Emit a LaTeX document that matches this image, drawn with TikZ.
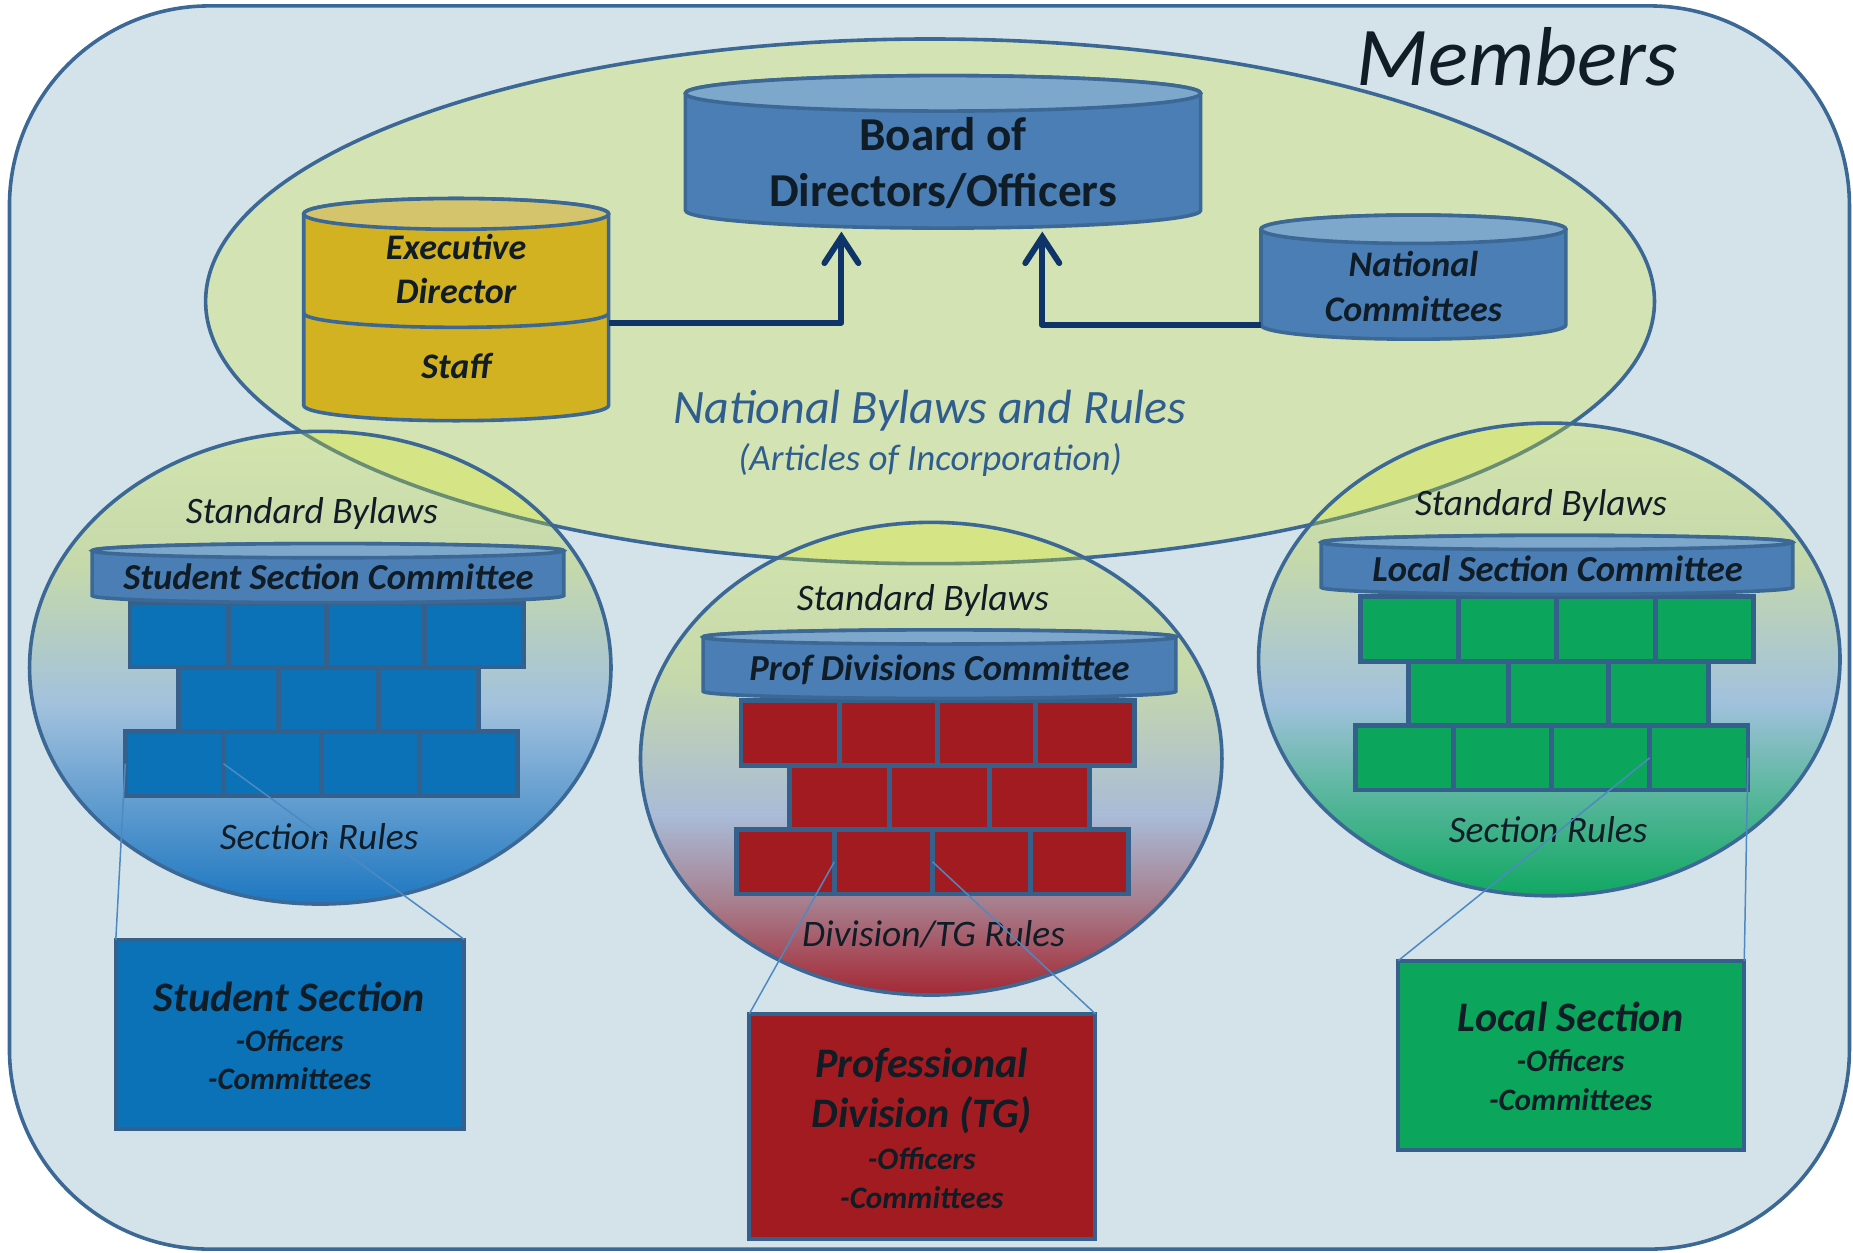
\documentclass[tikz,border=0pt]{standalone}
\usepackage{fontspec}
\setmainfont{Carlito}
\usetikzlibrary{arrows.meta}
\definecolor{bgc}{HTML}{D4E3EA}
\definecolor{bordc}{HTML}{3C6895}
\definecolor{natfill}{HTML}{D3E3B3}
\definecolor{ovl}{HTML}{D5E485}
\definecolor{ovlline}{HTML}{6A8E74}
\definecolor{cylblue}{HTML}{4A7EB5}
\definecolor{cyltop}{HTML}{7EA7CC}
\definecolor{gold}{HTML}{D3B221}
\definecolor{goldtop}{HTML}{D4C46C}
\definecolor{navy}{HTML}{0E3469}
\definecolor{txt}{HTML}{101C26}
\definecolor{ntxt}{HTML}{2F5E8E}
\definecolor{bblue}{HTML}{0B72B8}
\definecolor{bred}{HTML}{A11B20}
\definecolor{bgreen}{HTML}{0BA65C}
\definecolor{brickline}{HTML}{35608B}
\definecolor{thinline}{HTML}{4D89C2}
\definecolor{shtop}{HTML}{D3E4AE}
\definecolor{shmid}{HTML}{C6D9AA}
\definecolor{shlb}{HTML}{A2C1DD}
\definecolor{shlav}{HTML}{A9BBD7}
\definecolor{sbbot}{HTML}{1D77C1}
\definecolor{srmid}{HTML}{A7808F}
\definecolor{srbot}{HTML}{A52835}
\definecolor{sgmid}{HTML}{62B8A4}
\definecolor{sgbot}{HTML}{10A862}
\pgfdeclareverticalshading{shblue}{100bp}{color(0bp)=(sbbot); color(25bp)=(sbbot); color(46bp)=(shlb); color(61bp)=(shmid); color(75bp)=(shtop); color(100bp)=(shtop)}
\pgfdeclareverticalshading{shred}{100bp}{color(0bp)=(srbot); color(25bp)=(srbot); color(35bp)=(srmid); color(44bp)=(shlav); color(59bp)=(shmid); color(75bp)=(shtop); color(100bp)=(shtop)}
\pgfdeclareverticalshading{shgreen}{100bp}{color(0bp)=(sgbot); color(25bp)=(sgbot); color(37bp)=(sgmid); color(45.5bp)=(shlb); color(61bp)=(shmid); color(75bp)=(shtop); color(100bp)=(shtop)}

\newcommand\drawcyl[7]{%
  \pgfmathsetmacro\cylcx{(#1+#2)/2}%
  \pgfmathsetmacro\cylrx{(#2-#1)/2}%
  \filldraw[cylline, fill=#6] (#1,#3) -- (#1,#4) arc[start angle=180, end angle=0, x radius=\cylrx, y radius=#5] -- (#2,#3) arc[start angle=0, end angle=-180, x radius=\cylrx, y radius=#5] -- cycle;
  \filldraw[cylline, fill=#7] (\cylcx,#3) ellipse[x radius=\cylrx, y radius=#5];
}
\newcommand\secell[3]{%
  \shade[shading=#3] (#1,#2) ellipse[x radius=246, y radius=200];
  \begin{scope}
    \clip (787,255) ellipse[x radius=613, y radius=222];
    \fill[ovl] (#1,#2) ellipse[x radius=246, y radius=200];
  \end{scope}
  \begin{scope}
    \clip (#1,#2) ellipse[x radius=246, y radius=200];
    \draw[ovlline, line width=1.8pt] (787,255) ellipse[x radius=613, y radius=222];
  \end{scope}
  \draw[bordline] (#1,#2) ellipse[x radius=246, y radius=200];
}
\newcommand\brickwall[4]{%
  \foreach \i in {0,...,3} \node[brick, fill=#4] (#1-1-\i) at ({#2+\i*83.2},{#3}) {};
  \foreach \i in {0,1,2} \node[brick, widebrick, fill=#4] (#1-2-\i) at ({#2+41+\i*84.6},{#3+54.5}) {};
  \foreach \i in {0,...,3} \node[brick, fill=#4] (#1-3-\i) at ({#2-4+\i*83},{#3+109}) {};
}

\begin{document}
\begin{tikzpicture}[x=0.59088pt, y=-0.59088pt,
  bordline/.style={draw=bordc, line width=1.8pt},
  cylline/.style={draw=bordc, line width=1.8pt},
  brick/.style={draw=brickline, line width=2.4pt, anchor=north west, inner sep=0pt, outer sep=0pt, minimum width=49.1pt, minimum height=32.2pt},
  widebrick/.style={minimum width=49.99pt},
  boxnode/.style={draw=brickline, line width=2pt, inner sep=0pt, outer sep=0pt},
  thinconn/.style={draw=thinline, line width=0.75pt},
  arrowline/.style={draw=navy, line width=3pt, line join=round, -{Straight Barb[length=13pt, width=17pt, line cap=round]}},
  hidden/.style={inner sep=0pt, outer sep=0pt},
  lbl/.style={anchor=base, inner sep=0pt, text=txt},
  cyllbl/.style={lbl, font=\bfseries\itshape\fontsize{18}{22}\selectfont},
  comlbl/.style={lbl, font=\bfseries\itshape\fontsize{18.3}{22}\selectfont},
  stdlbl/.style={lbl, font=\itshape\fontsize{18.7}{22}\selectfont},
  boxtitle/.style={lbl, font=\bfseries\itshape\fontsize{21}{25}\selectfont},
  boxitem/.style={lbl, font=\bfseries\itshape\fontsize{15.6}{19}\selectfont}
]
\useasboundingbox (0,0) rectangle (1568,1060);
% members frame
\draw[bordline, fill=bgc, rounded corners=100pt] (8,5) rectangle (1565,1057);
\node[lbl, font=\itshape\fontsize{41.8}{48}\selectfont] (members) at (1284,72) {Members};
% national ellipse
\draw[bordline, fill=natfill] (787,255) ellipse[x radius=613, y radius=222];
% cylinders
\drawcyl{580}{1016}{79}{178}{15}{cylblue}{cyltop}
\drawcyl{257}{515}{181}{343}{13}{gold}{goldtop}
\draw[cylline] (257,265) arc[start angle=180, end angle=0, x radius=129, y radius=12];
\drawcyl{1067}{1325}{194}{275}{12}{cylblue}{cyltop}
\node[lbl, font=\bfseries\fontsize{23.6}{28}\selectfont] (board) at (798,127) {Board of};
\node[lbl, font=\bfseries\fontsize{23.6}{28}\selectfont] (board2) at (798,175) {Directors/Officers};
\node[cyllbl] (exec) at (386,220) {Executive};
\node[cyllbl] (exec2) at (386,257) {Director};
\node[cyllbl] (staff) at (386,320) {Staff};
\node[cyllbl] (natl) at (1196,234) {National};
\node[cyllbl] (natl2) at (1196,272) {Committees};
\node[hidden, minimum width=152.4pt, minimum height=80pt] (execbody) at (386,273) {};
\node[hidden, minimum width=152.4pt, minimum height=40pt] (natbody) at (1196,275) {};
\coordinate (boardin1) at (712,196);
\coordinate (boardin2) at (882,196);
\draw[arrowline] (execbody.east) -| (boardin1);
\draw[arrowline] (natbody.west) -| (boardin2);
\node[anchor=base, inner sep=0pt, text=ntxt, font=\itshape\fontsize{24}{28}\selectfont] (natbylaws) at (787,358) {National Bylaws and Rules};
\node[anchor=base, inner sep=0pt, text=ntxt, font=\itshape\fontsize{18.5}{22}\selectfont] (articles) at (787,398) {(Articles of Incorporation)};
% section ellipses
\secell{271}{565}{shblue}
\secell{788}{642}{shred}
\secell{1311}{558}{shgreen}
% walls
\brickwall{s}{110}{510}{bblue}
\brickwall{p}{627}{593}{bred}
\brickwall{l}{1151}{505}{bgreen}
% committee cylinders
\drawcyl{78}{477}{466}{504}{6}{cylblue}{cyltop}
\drawcyl{595}{995}{539}{585}{6}{cylblue}{cyltop}
\drawcyl{1118}{1517}{459}{497}{6}{cylblue}{cyltop}
\node[comlbl] (sscom) at (278,499) {Student Section Committee};
\node[comlbl] (pdcom) at (795,576) {Prof Divisions Committee};
\node[comlbl] (lscom) at (1318,492) {Local Section Committee};
\node[stdlbl] (sstd) at (264,443) {Standard Bylaws};
\node[stdlbl] (pstd) at (781,517) {Standard Bylaws};
\node[stdlbl] (lstd) at (1304,436) {Standard Bylaws};
\node[stdlbl] (srules) at (270,719) {Section Rules};
\node[stdlbl] (prules) at (790,801) {Division/TG Rules};
\node[stdlbl] (lrules) at (1310,713) {Section Rules};
% boxes
\node[boxnode, fill=bblue, minimum width=174.3pt, minimum height=94.5pt] (sbox) at (245.5,875) {};
\node[boxnode, fill=bred, minimum width=173.1pt, minimum height=112.3pt] (pbox) at (780.5,953) {};
\node[boxnode, fill=bgreen, minimum width=173.1pt, minimum height=94.5pt] (lbox) at (1329.5,893) {};
\node[boxtitle] (st1) at (245,856) {Student Section};
\node[boxitem] (st2) at (245,890) {-Officers};
\node[boxitem] (st3) at (245,922) {-Committees};
\node[boxtitle] (pt1) at (780,912) {Professional};
\node[boxtitle] (pt2) at (780,954) {Division (TG)};
\node[boxitem] (pt3) at (780,990) {-Officers};
\node[boxitem] (pt4) at (780,1023) {-Committees};
\node[boxtitle] (lt1) at (1329,873) {Local Section};
\node[boxitem] (lt2) at (1329,907) {-Officers};
\node[boxitem] (lt3) at (1329,940) {-Committees};
% thin connectors
\draw[thinconn] (s-3-0.west) -- (sbox.north west);
\draw[thinconn] (s-3-0.east) -- (sbox.north east);
\draw[thinconn] (p-3-1.west) -- (pbox.north west);
\draw[thinconn] (p-3-1.east) -- (pbox.north east);
\draw[thinconn] (l-3-3.west) -- (lbox.north west);
\draw[thinconn] (l-3-3.east) -- (lbox.north east);
\end{tikzpicture}
\end{document}
